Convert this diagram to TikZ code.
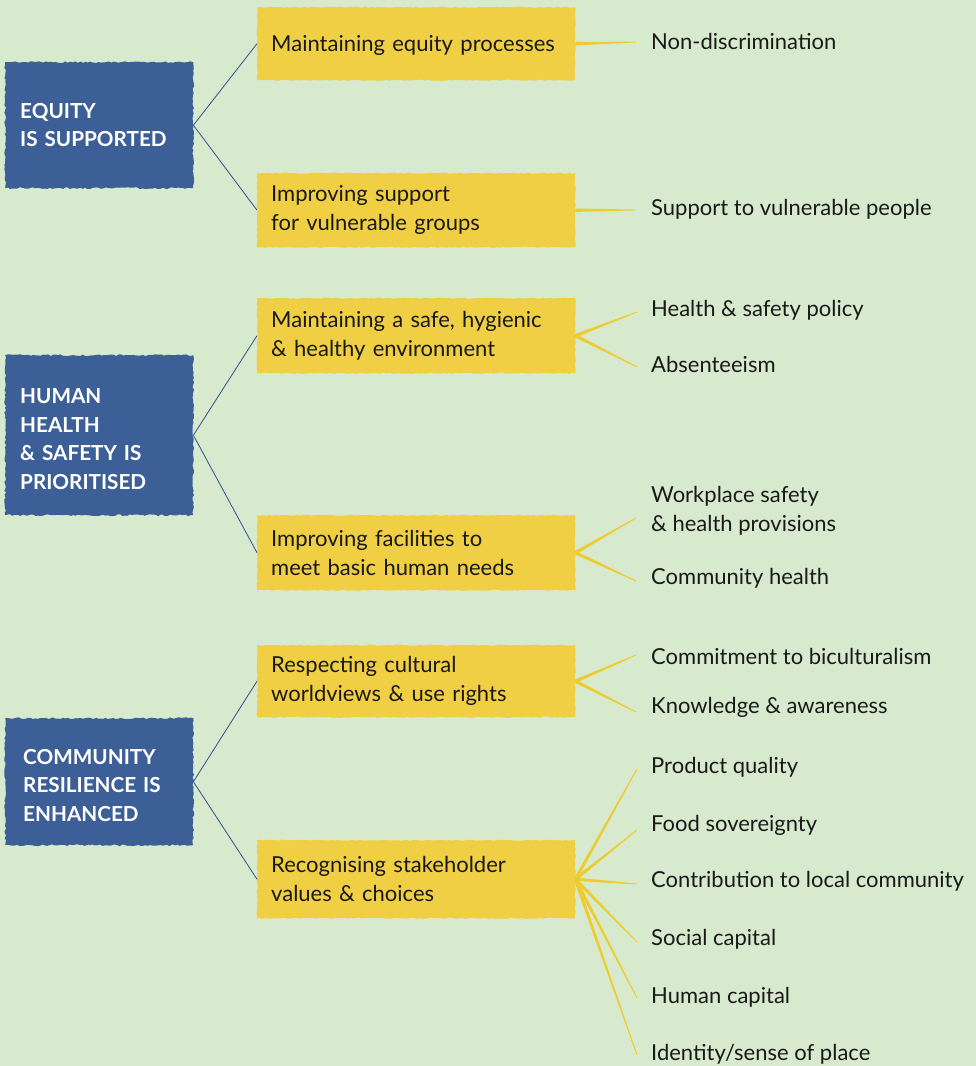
\documentclass[tikz,border=0pt]{standalone}
\usepackage{fontspec}
\setmainfont{Lato}
\usetikzlibrary{decorations.pathmorphing,calc}
\definecolor{bgc}{RGB}{216,234,206}
\definecolor{bluebox}{RGB}{61,95,152}
\definecolor{yelbox}{RGB}{240,207,68}
\definecolor{yelline}{RGB}{238,204,48}
\definecolor{bluline}{RGB}{50,80,140}
\definecolor{txt}{RGB}{25,25,25}
\newcommand\taperline[2]{\fill[yelline] ($(#1)!1.7pt!90:(#2)$) -- ($(#2)!0.45pt!-90:(#1)$) -- ($(#2)!0.45pt!90:(#1)$) -- ($(#1)!1.7pt!-90:(#2)$) -- cycle;}
\newcommand\gstrut{\rule{0pt}{22.5pt}}
\begin{document}
\begin{tikzpicture}[x=1pt,y=-1pt,
  goal/.style={fill=bluebox, anchor=north west, minimum width=188pt, inner xsep=15pt,
    text width=158pt, align=left, text=white, font=\fontsize{20.7}{28.5}\selectfont\bfseries,
    decorate, decoration={random steps, segment length=2.5pt, amplitude=0.9pt}},
  act/.style={fill=yelbox, anchor=north west, minimum width=318pt, inner xsep=14pt,
    text width=290pt, align=left, text=txt, font=\fontsize{22}{29}\selectfont,
    decorate, decoration={random steps, segment length=3pt, amplitude=0.6pt}},
  leaf/.style={anchor=west, inner sep=0pt, align=left, text=txt, font=\fontsize{22}{28.5}\selectfont},
  bline/.style={draw=bluline, line width=0.8pt}]
\useasboundingbox (0,0) rectangle (976,1066);
\fill[bgc] (0,0) rectangle (976,1066);

% goals
\node[goal, minimum height=126pt] (g1) at (5,62) {EQUITY\\IS SUPPORTED};
\node[goal, minimum height=160pt] (g2) at (5,355) {\gstrut HUMAN\\HEALTH\\\& SAFETY IS\\PRIORITISED};
\node[goal, minimum height=127pt, inner xsep=18pt, text width=152pt] (g3) at (5,718) {\gstrut COMMUNITY\\RESILIENCE IS\\ENHANCED};

% actions
\node[act, minimum height=73pt, text depth=0pt] (a1) at (257,7) {Maintaining equity processes};
\node[act, minimum height=74pt] (a2) at (257,173) {Improving support\\for vulnerable groups};
\node[act, minimum height=75pt] (a3) at (257,298) {Maintaining a safe, hygienic\\\& healthy environment};
\node[act, minimum height=75pt] (a4) at (257,515) {Improving facilities to\\meet basic human needs};
\node[act, minimum height=72pt] (a5) at (257,645) {Respecting cultural\\worldviews \& use rights};
\node[act, minimum height=78pt] (a6) at (257,840) {Recognising stakeholder\\values \& choices};

% leaves
\node[leaf] (l1) at (651,41) {Non-discrimination};
\node[leaf] (l2) at (651,209) {Support to vulnerable people};
\node[leaf] (l31) at (651,310) {Health \& safety policy};
\node[leaf] (l32) at (651,364) {Absenteeism};
\node[leaf] (l41) at (651,511) {Workplace safety\\\& health provisions};
\node[leaf] (l42) at (651,578) {Community health};
\node[leaf] (l51) at (651,656) {Commitment to biculturalism};
\node[leaf] (l52) at (651,707) {Knowledge \& awareness};
\node[leaf] (l61) at (651,767) {Product quality};
\node[leaf] (l62) at (651,825) {Food sovereignty};
\node[leaf] (l63) at (651,881) {Contribution to local community};
\node[leaf] (l64) at (651,939) {Social capital};
\node[leaf] (l65) at (651,997) {Human capital};
\node[leaf] (l66) at (651,1054) {Identity/sense of place};

% blue connectors
\draw[bline] (g1.east) -- (a1.west);
\draw[bline] (g1.east) -- (a2.west);
\draw[bline] (g2.east) -- (a3.west);
\draw[bline] (g2.east) -- (a4.west);
\draw[bline] (g3.east) -- (a5.west);
\draw[bline] (g3.east) -- (a6.west);

% yellow connector ends
\coordinate (e1) at ([xshift=-15pt,yshift=-1pt]l1.west);
\coordinate (e2) at ([xshift=-15pt,yshift=-1pt]l2.west);
\coordinate (e31) at ([xshift=-14pt,yshift=-2pt]l31.west);
\coordinate (e32) at ([xshift=-14pt,yshift=-3pt]l32.west);
\coordinate (e41) at ([xshift=-15pt,yshift=-7pt]l41.west);
\coordinate (e42) at ([xshift=-15pt,yshift=-3pt]l42.west);
\coordinate (e51) at ([xshift=-15pt,yshift=1pt]l51.west);
\coordinate (e52) at ([xshift=-15pt,yshift=-5pt]l52.west);
\foreach \i/\s in {1/-2,2/-5,3/-3,4/-3,5/-1,6/-1}
  \coordinate (e6\i) at ([xshift=-14pt,yshift=\s pt]l6\i.west);

% yellow connectors
\taperline{a1.east}{e1}
\taperline{a2.east}{e2}
\taperline{a3.east}{e31}
\taperline{a3.east}{e32}
\taperline{a4.east}{e41}
\taperline{a4.east}{e42}
\taperline{a5.east}{e51}
\taperline{a5.east}{e52}
\foreach \i in {1,...,6} {\taperline{a6.east}{e6\i}}
\end{tikzpicture}
\end{document}
